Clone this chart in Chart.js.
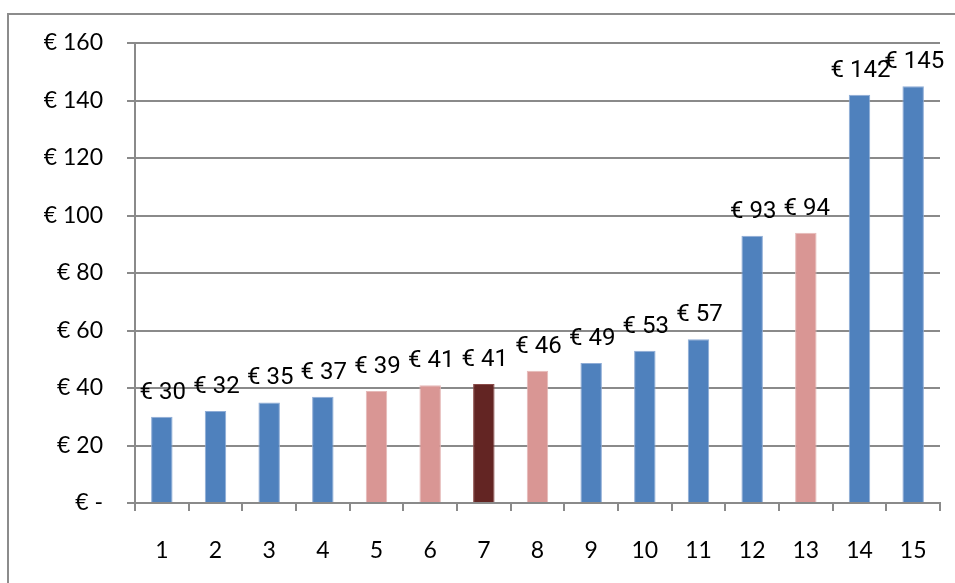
<!DOCTYPE html>
<html>
<head>
<meta charset="utf-8">
<script src="https://cdn.jsdelivr.net/npm/chart.js@4"></script>
<style>
    body { margin: 0; background: #fff; }
    .frame { position: absolute; left: 7px; top: 13px; width: 980px; height: 600px; border: 2px solid #8c8c8c; }
    .chart_container { position: absolute; left: 0; top: 0; width: 955px; height: 583px; }
</style>
</head>
<body>
<div class="frame"></div>
<div class="chart_container"><canvas id="myChart"></canvas></div>
<script>
const labels = ['1', '2', '3', '4', '5', '6', '7', '8', '9', '10', '11', '12', '13', '14', '15'];
const prices = [30, 32, 35, 37, 39, 41, 41.4, 46, 48.7, 53, 57, 93, 94, 142, 145];
const priceLabels = ['€ 30', '€ 32', '€ 35', '€ 37', '€ 39', '€ 41', '€ 41', '€ 46', '€ 49', '€ 53', '€ 57', '€ 93', '€ 94', '€ 142', '€ 145'];
const barKinds = ['b', 'b', 'b', 'b', 'p', 'p', 'd', 'p', 'b', 'b', 'b', 'b', 'p', 'b', 'b'];
const yTicks = [0, 20, 40, 60, 80, 100, 120, 140, 160];

let blueColor = '#4f81bd', pinkColor = '#d99694', darkColor = '#632523';
let gridColor = '#8a8a8a';

const fillColors = barKinds.map(k => k == 'b' ? blueColor : (k == 'p' ? pinkColor : darkColor));
const edgeColors = barKinds.map(k => k == 'b' ? '#8eacd6' : (k == 'p' ? '#e6b9b8' : '#8a4a48'));

// draws the "€ xx" text above each bar
const valueLabels = {
    id: 'valueLabels',
    afterDatasetsDraw(chart) {
        const ctx = chart.ctx;
        const meta = chart.getDatasetMeta(0);
        ctx.save();
        ctx.font = '24px Roboto';
        ctx.fillStyle = '#000';
        ctx.textAlign = 'center';
        ctx.textBaseline = 'alphabetic';
        meta.data.forEach((bar, i) => {
            ctx.fillText(priceLabels[i], bar.x + 1, bar.y - 18);
        });
        ctx.restore();
    }
};

const data = {
    labels: labels,
    datasets: [{
        data: prices,
        backgroundColor: fillColors,
        borderColor: edgeColors,
        borderWidth: 1,
        barPercentage: 0.4,
        categoryPercentage: 1
    }]
};

const config = {
    type: 'bar',
    data,
    options: {
        responsive: true,
        maintainAspectRatio: false,
        animation: false,
        layout: { padding: { top: 43, right: 15, left: 0, bottom: 0 } },
        plugins: {
            legend: { display: false },
            tooltip: { enabled: false }
        },
        scales: {
            x: {
                afterFit: (scale) => { scale.height = 80; },
                grid: { drawOnChartArea: false, drawTicks: true, tickLength: 8, color: gridColor, lineWidth: 2 },
                border: { color: gridColor, width: 2 },
                ticks: { color: '#000', font: { family: 'Lato', size: 23 }, padding: 26 }
            },
            y: {
                min: 0,
                max: 160,
                afterFit: (scale) => { scale.width = 135; },
                afterBuildTicks: (scale) => { scale.ticks = yTicks.map(v => ({ value: v })); },
                grid: { color: gridColor, lineWidth: 2, tickLength: 8 },
                border: { color: gridColor, width: 2 },
                ticks: {
                    color: '#000',
                    font: { family: 'Lato', size: 23 },
                    padding: 24,
                    callback: (v) => v === 0 ? '€ -' : '€ ' + v
                }
            }
        }
    },
    plugins: [valueLabels]
};

const myChart = new Chart(document.getElementById('myChart'), config);
</script>
</body>
</html>
